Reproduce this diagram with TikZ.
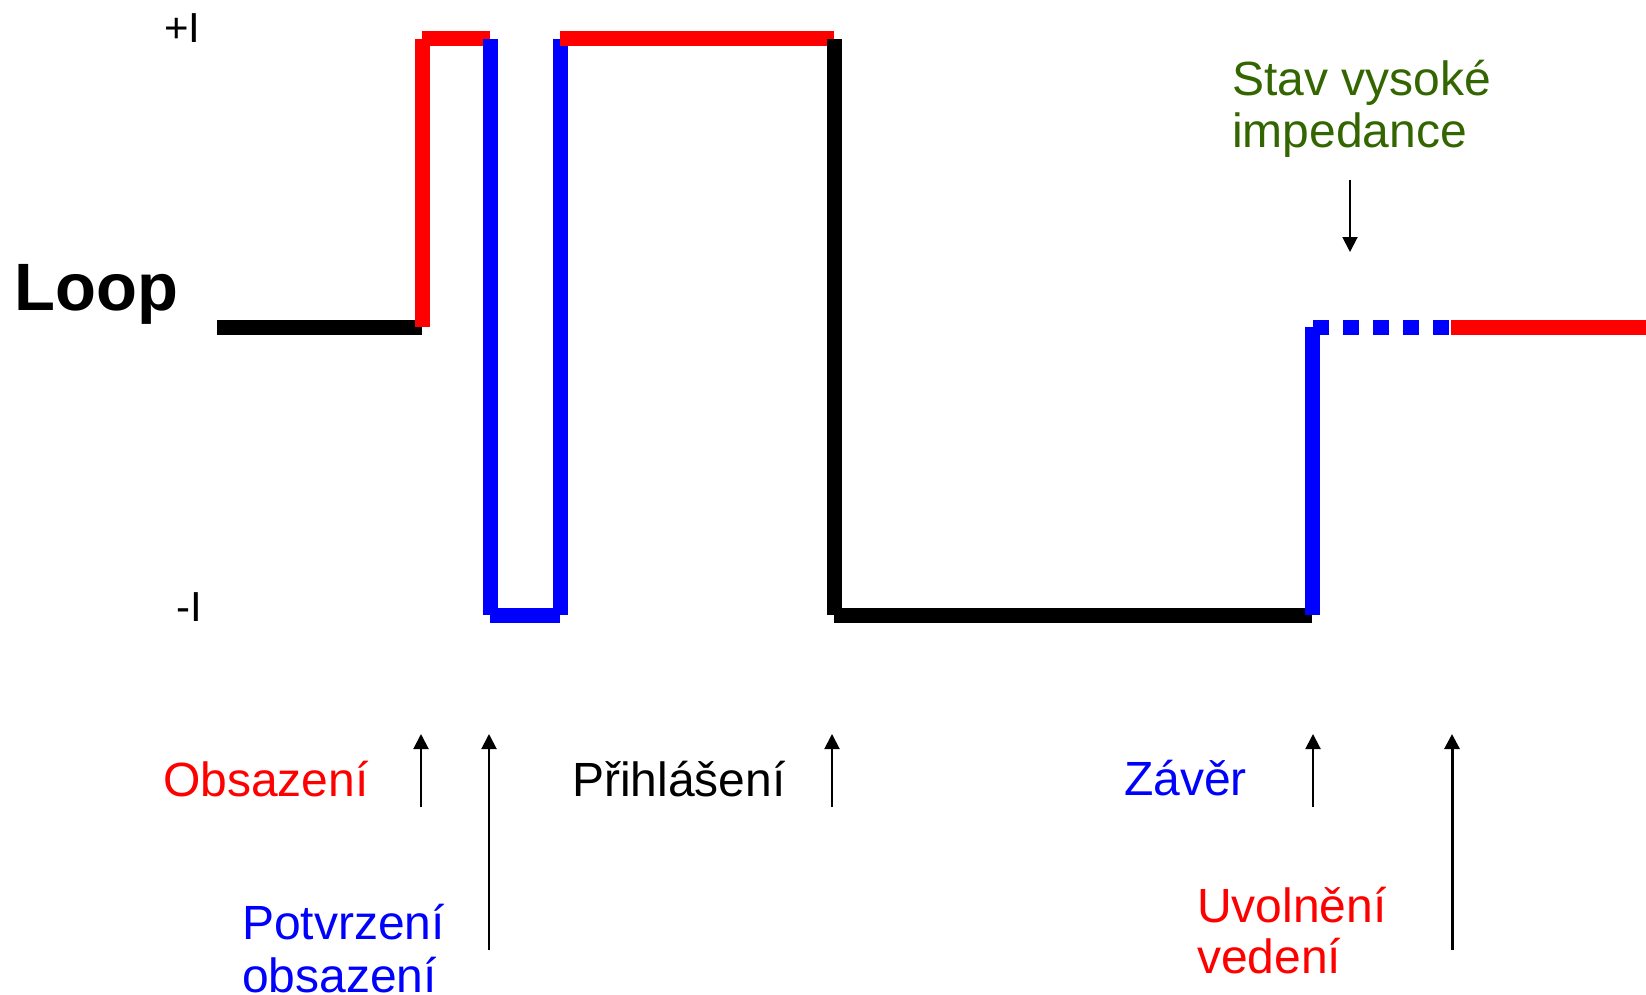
\documentclass[tikz,border=0pt]{standalone}
\usepackage{fontspec}
\setmainfont{Liberation Sans}
\usetikzlibrary{arrows.meta}
\definecolor{sred}{RGB}{255,0,0}
\definecolor{sblue}{RGB}{0,0,255}
\definecolor{sgreen}{RGB}{51,102,0}
\begin{document}
\begin{tikzpicture}[x=1pt,y=-1pt,
  wave/.style={line width=15pt,line cap=butt},
  marker/.style={line width=2pt,-{Triangle[width=15pt,length=15pt]}},
  lbl/.style={inner sep=0pt,anchor=base west,font=\fontsize{48}{55}\selectfont}]
\useasboundingbox (0,0) rectangle (1646,995);
% waveform corner points
\coordinate (p0) at (217,327);
\coordinate (p1) at (422,327);
\coordinate (p2) at (422,39);
\coordinate (p3) at (490,39);
\coordinate (p4) at (490,615);
\coordinate (p5) at (560,615);
\coordinate (p6) at (560,39);
\coordinate (p7) at (834,39);
\coordinate (p8) at (834,615);
\coordinate (p9) at (1312,615);
\coordinate (p10) at (1312,327);
\coordinate (p10b) at (1313,327);
\coordinate (p11) at (1451,327);
\coordinate (p12) at (1646,327);
% waveform
\draw[wave,black] (p0) -- (p1);
\draw[wave,sred] (p1) -- (p2);
\draw[wave,sred] (p2) -- (p3);
\draw[wave,sblue] (p3) -- (p4);
\draw[wave,sblue] (p4) -- (p5);
\draw[wave,sblue] (p5) -- (p6);
\draw[wave,sred] (p6) -- (p7);
\draw[wave,black] (p7) -- (p8);
\draw[wave,black] (p8) -- (p9);
\draw[wave,sblue] (p9) -- (p10);
\draw[wave,sblue,dash pattern=on 16pt off 14pt] (p10b) -- (p11);
\draw[wave,sred] (p11) -- (p12);
% axis labels
\node[inner sep=0pt,anchor=base west,font=\fontsize{67}{70}\selectfont\bfseries] (loop) at (14,310) {Loop};
\node[inner sep=0pt,anchor=base west,font=\fontsize{42}{46}\selectfont] (plus) at (164,43) {+I};
\node[inner sep=0pt,anchor=base west,font=\fontsize{42}{46}\selectfont] (minus) at (176,621) {-I};
% event labels
\node[lbl,text=sred] (obs) at (163,796) {Obsazení};
\node[lbl,text=black] (prih) at (572,796) {Přihlášení};
\node[lbl,text=sblue] (zaver) at (1124,795) {Závěr};
\node[lbl,text=sblue] (potv1) at (242,939) {Potvrzení};
\node[lbl,text=sblue] (potv2) at (242,992) {obsazení};
\node[lbl,text=sred] (uvol1) at (1197,922) {Uvolnění};
\node[lbl,text=sred] (uvol2) at (1197,973) {vedení};
\node[lbl,text=sgreen] (stav1) at (1232,96) {Stav vysoké};
\node[lbl,text=sgreen] (stav2) at (1232,148) {impedance};
% marker arrows
\coordinate (a1s) at (421,807); \coordinate (a1e) at (421,734);
\coordinate (a2s) at (489,950); \coordinate (a2e) at (489,734);
\coordinate (a3s) at (832,807); \coordinate (a3e) at (832,734);
\coordinate (a4s) at (1313,807); \coordinate (a4e) at (1313,734);
\coordinate (a5s) at (1452,950); \coordinate (a5e) at (1452,734);
\coordinate (a6s) at (1350,180); \coordinate (a6e) at (1350,252);
\draw[marker] (a1s) -- (a1e);
\draw[marker] (a2s) -- (a2e);
\draw[marker] (a3s) -- (a3e);
\draw[marker] (a4s) -- (a4e);
\draw[marker,line width=3pt] (a5s) -- (a5e);
\draw[marker] (a6s) -- (a6e);
\end{tikzpicture}
\end{document}
